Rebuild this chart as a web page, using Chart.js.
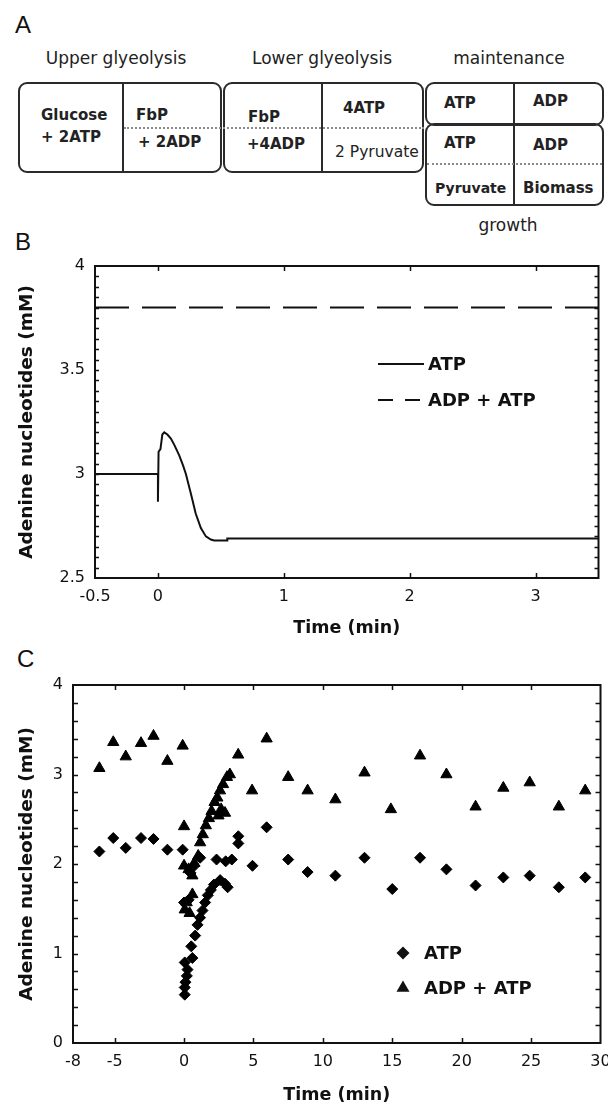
<!DOCTYPE html>
<html>
<head>
<meta charset="utf-8">
<script src="https://cdn.jsdelivr.net/npm/chart.js@4/dist/chart.umd.min.js"></script>
<style>
html,body{margin:0;padding:0;background:#fff;}
body{width:608px;height:1108px;position:relative;overflow:hidden;font-family:"DejaVu Sans",sans-serif;color:#111;}
.letter{position:absolute;font-family:"Liberation Sans",Arial,sans-serif;font-size:24px;line-height:24px;color:#111;}
.hdr{position:absolute;font-size:17px;line-height:17px;color:#222;white-space:nowrap;transform:translateX(-50%);}
.box{position:absolute;border:2px solid #2a2a2a;border-radius:9px;box-sizing:border-box;}
.vdiv{position:absolute;width:0;border-left:2px solid #2a2a2a;}
.dot{position:absolute;height:0;border-top:2px dotted #8a8a8a;}
.t{position:absolute;font-weight:bold;font-size:15px;line-height:15px;color:#222;white-space:nowrap;}
canvas{position:absolute;left:0;}
</style>
</head>
<body>
<!-- Panel A : diagram -->
<div class="letter" style="left:15px;top:13px">A</div>
<div class="hdr" style="left:116px;top:50px">Upper glyeolysis</div>
<div class="hdr" style="left:322px;top:50px">Lower glyeolysis</div>
<div class="hdr" style="left:509px;top:50px">maintenance</div>

<div class="box" style="left:18px;top:82px;width:204px;height:91px"></div>
<div class="vdiv" style="left:122px;top:83px;height:89px"></div>
<div class="box" style="left:223px;top:82px;width:201px;height:91px"></div>
<div class="vdiv" style="left:321px;top:83px;height:89px"></div>
<div class="dot" style="left:124px;top:127px;width:300px"></div>

<div class="box" style="left:425px;top:82px;width:179px;height:44px"></div>
<div class="box" style="left:425px;top:123px;width:179px;height:83px"></div>
<div class="vdiv" style="left:513px;top:83px;height:122px"></div>
<div class="dot" style="left:427px;top:163px;width:175px"></div>

<div class="t" style="left:41px;top:108px">Glucose</div>
<div class="t" style="left:41px;top:130px">+ 2ATP</div>
<div class="t" style="left:136px;top:108px">FbP</div>
<div class="t" style="left:138px;top:135px">+ 2ADP</div>
<div class="t" style="left:248px;top:110px">FbP</div>
<div class="t" style="left:247px;top:137px">+4ADP</div>
<div class="t" style="left:343px;top:101px">4ATP</div>
<div class="t" style="left:335px;top:145px;font-weight:normal;font-size:15.5px">2 Pyruvate</div>
<div class="t" style="left:444px;top:96px">ATP</div>
<div class="t" style="left:533px;top:94px">ADP</div>
<div class="t" style="left:444px;top:136px">ATP</div>
<div class="t" style="left:533px;top:138px">ADP</div>
<div class="t" style="left:435px;top:181px;font-size:14px;line-height:14px">Pyruvate</div>
<div class="t" style="left:523px;top:181px">Biomass</div>
<div class="hdr" style="left:508px;top:217px">growth</div>

<div class="letter" style="left:15px;top:230px">B</div>
<div class="letter" style="left:17px;top:647px">C</div>

<canvas id="chartB" width="608" height="410" style="top:230px"></canvas>
<canvas id="chartC" width="608" height="468" style="top:640px"></canvas>

<script>
// ---------------- DATA ----------------
// Panel B (simulation)
const timeB  = [-0.5, 0,    0,     0.005, 0.02,  0.035, 0.05, 0.075, 0.103, 0.13, 0.169, 0.2,  0.222, 0.262, 0.30, 0.341, 0.381, 0.42,  0.447, 0.526, 0.55, 0.551, 3.5];
const atpB   = [3.0,  3.0,  2.867, 3.107, 3.12,  3.19,  3.2,  3.19,  3.17,  3.14, 3.09,  3.04, 3.0,   2.905, 2.81, 2.74,  2.70,  2.685, 2.68,  2.68,  2.68, 2.69,  2.69];
const totalTimeB = [-0.5, 3.5];
const totalB     = [3.8, 3.8];
const xTicksB = [-0.5, 0, 1, 2, 3];
const yTicksB = [2.5, 3, 3.5, 4];

// Panel C (measurements)
const atpTimeC = [-6.1, -5.1, -4.2, -3.1, -2.2, -1.2, -0.1,
  0.05, 0.05, 0.1, 0.2, 0.25, 0.05, 0.6, 0.52, 0.8, 0.97, 1.15, 1.33, 1.52, 1.71, 1.93, 2.15, 2.6, 2.95, 3.14,
  0.0, 0.33, 0.47, 0.74, 1.16, 2.34, 3.0, 3.44, 3.91, 3.91, 4.93, 5.95,
  7.5, 8.9, 10.9, 13.0, 15.0, 17.0, 18.9, 21.0, 23.0, 24.9, 27.0, 28.9];
const atpC = [2.14, 2.29, 2.18, 2.29, 2.28, 2.16, 2.16,
  0.54, 0.62, 0.68, 0.75, 0.82, 0.90, 0.95, 1.08, 1.20, 1.32, 1.40, 1.48, 1.57, 1.65, 1.71, 1.77, 1.82, 1.78, 1.74,
  1.57, 1.60, 1.90, 1.98, 2.07, 2.05, 2.03, 2.05, 2.31, 2.23, 1.98, 2.41,
  2.05, 1.91, 1.87, 2.07, 1.72, 2.07, 1.94, 1.76, 1.85, 1.87, 1.74, 1.85];
const totTimeC = [-6.1, -5.1, -4.2, -3.1, -2.2, -1.2, -0.1, 0.0,
  0.0, 0.33, 0.6, 0.19, 0.05, 0.4, 0.6, 0.74, 1.02, 1.16, 1.35, 1.57, 1.79, 1.98, 2.2, 2.4, 2.59, 2.81, 3.09, 3.3,
  2.95, 2.67, 2.48, 3.9, 4.9, 5.95, 7.5, 8.9, 10.9, 13.0, 14.9, 17.0, 18.9, 21.0, 23.0, 24.9, 27.0, 28.9];
const totC = [3.07, 3.36, 3.20, 3.35, 3.43, 3.15, 3.32, 2.42,
  1.98, 1.94, 1.87, 1.57, 1.49, 1.45, 1.66, 2.01, 2.09, 2.24, 2.33, 2.43, 2.51, 2.59, 2.69, 2.74, 2.82, 2.89, 2.97, 3.0,
  2.57, 2.61, 2.54, 3.22, 2.82, 3.40, 2.97, 2.82, 2.72, 3.02, 2.61, 3.21, 3.0, 2.64, 2.85, 2.91, 2.64, 2.82];
const xTicksC = [-8, -5, 0, 5, 10, 15, 20, 25, 30];
const yTicksC = [0, 1, 2, 3, 4];

const seriesNames = ['ATP', 'ADP + ATP'];
const yTitle = 'Adenine nucleotides (mM)';
const xTitle = 'Time (min)';

// ---------------- HELPERS ----------------
const zip = (xs, ys) => xs.map((x, i) => ({x: x, y: ys[i]}));
const FONT = '"DejaVu Sans", sans-serif';
const INK = '#111';

const framePlugin = {
  id: 'frame',
  afterDatasetsDraw(chart, args, o) {
    const {ctx, chartArea: a} = chart;
    const xs = chart.scales.x, ys = chart.scales.y;
    ctx.save();
    ctx.strokeStyle = INK;
    ctx.lineWidth = 2;
    ctx.strokeRect(a.left, a.top, a.right - a.left, a.bottom - a.top);
    ctx.lineWidth = 1.5;
    ctx.beginPath();
    o.xMarks.forEach(v => {
      if (v <= xs.min || v >= xs.max) return;
      const p = Math.round(xs.getPixelForValue(v)) + 0.5;
      ctx.moveTo(p, a.bottom); ctx.lineTo(p, a.bottom - o.xLen);
      ctx.moveTo(p, a.top); ctx.lineTo(p, a.top + o.xLen);
    });
    const n = Math.round((ys.max - ys.min) / o.yStep);
    for (let i = 1; i < n; i++) {
      const p = Math.round(ys.getPixelForValue(ys.min + i * o.yStep)) + 0.5;
      ctx.moveTo(a.left, p); ctx.lineTo(a.left + o.yLen, p);
      ctx.moveTo(a.right, p); ctx.lineTo(a.right - o.yLen, p);
    }
    ctx.stroke();
    ctx.restore();
  }
};

function drawMarker(ctx, style, x, y, r) {
  ctx.beginPath();
  if (style === 'rectRot') {
    ctx.moveTo(x - r, y); ctx.lineTo(x, y - r); ctx.lineTo(x + r, y); ctx.lineTo(x, y + r);
  } else {
    const h = r * Math.sqrt(3) / 2;
    ctx.moveTo(x, y - r); ctx.lineTo(x + h, y + r / 2); ctx.lineTo(x - h, y + r / 2);
  }
  ctx.closePath(); ctx.fill();
}

const legendPlugin = {
  id: 'ownLegend',
  afterDraw(chart, args, o) {
    const ctx = chart.ctx;
    ctx.save();
    ctx.font = 'bold ' + o.size + 'px ' + FONT;
    ctx.fillStyle = INK; ctx.strokeStyle = INK;
    ctx.textBaseline = 'middle';
    chart.data.datasets.forEach((ds, i) => {
      const yy = o.y + i * o.gap;
      if (o.kind === 'line') {
        ctx.lineWidth = 2;
        ctx.setLineDash(o.dashes[i]);
        ctx.beginPath(); ctx.moveTo(o.x0, yy); ctx.lineTo(o.x1, yy); ctx.stroke();
        ctx.setLineDash([]);
      } else {
        drawMarker(ctx, ds.pointStyle, o.mx, yy, ds.pointRadius + 1);
      }
      ctx.fillText(ds.label, o.tx, yy + 1);
    });
    ctx.restore();
  }
};

function axes(cfg) {
  const tickFont = {family: FONT, size: 16};
  const titleFont = {family: FONT, size: 17.5, weight: 'bold'};
  return {
    x: {
      type: 'linear', min: cfg.xMin, max: cfg.xMax,
      grid: {display: false, drawTicks: false}, border: {display: false},
      afterBuildTicks: s => { s.ticks = cfg.xTicks.map(v => ({value: v})); },
      afterFit: s => { s.height = cfg.xH; s.paddingLeft = 0; s.paddingRight = 0; },
      ticks: {padding: 9, font: tickFont, color: INK, autoSkip: false, maxRotation: 0, callback: v => String(v)},
      title: {display: true, text: xTitle, color: INK, font: titleFont, padding: {top: 0, bottom: cfg.xTitlePad}}
    },
    y: {
      type: 'linear', min: cfg.yMin, max: cfg.yMax,
      grid: {display: false, drawTicks: false}, border: {display: false},
      afterBuildTicks: s => { s.ticks = cfg.yTicks.map(v => ({value: v})); },
      afterFit: s => { s.width = cfg.yW; s.paddingTop = 0; s.paddingBottom = 0; },
      ticks: {padding: 10, font: tickFont, color: INK, autoSkip: false, callback: v => String(v)},
      title: {display: true, text: yTitle, color: INK, font: {family: FONT, size: 18.5, weight: 'bold'}, padding: {top: 16, bottom: 0}}
    }
  };
}

// ---------------- CHART B ----------------
new Chart(document.getElementById('chartB'), {
  type: 'line',
  data: {
    datasets: [
      {label: seriesNames[0], data: zip(timeB, atpB), borderColor: INK, borderWidth: 2, pointRadius: 0, tension: 0, fill: false},
      {label: seriesNames[1], data: zip(totalTimeB, totalB), borderColor: INK, borderWidth: 2, borderDash: [34, 13], pointRadius: 0, fill: false}
    ]
  },
  options: {
    responsive: false, animation: false, events: [],
    layout: {padding: {top: 36, right: 9.5, left: 0, bottom: 0}},
    plugins: {
      legend: {display: false}, tooltip: {enabled: false},
      frame: {xMarks: xTicksB, xLen: 5, yStep: 0.05, yLen: 4},
      ownLegend: {kind: 'line', y: 134, gap: 36, x0: 378, x1: 424, tx: 428, size: 18, dashes: [[], [15, 12]]}
    },
    scales: axes({xMin: -0.5, xMax: 3.5, yMin: 2.5, yMax: 4, xTicks: xTicksB, yTicks: yTicksB, xH: 62, yW: 95, xTitlePad: 1})
  },
  plugins: [framePlugin, legendPlugin]
});

// ---------------- CHART C ----------------
new Chart(document.getElementById('chartC'), {
  type: 'scatter',
  data: {
    datasets: [
      {label: seriesNames[0], data: zip(atpTimeC, atpC), pointStyle: 'rectRot', pointRadius: 5.5, backgroundColor: '#000', borderColor: '#000', borderWidth: 1},
      {label: seriesNames[1], data: zip(totTimeC, totC), pointStyle: 'triangle', pointRadius: 6.5, backgroundColor: '#000', borderColor: '#000', borderWidth: 1}
    ]
  },
  options: {
    responsive: false, animation: false, events: [],
    layout: {padding: {top: 45, right: 4, left: 0, bottom: 0}},
    plugins: {
      legend: {display: false}, tooltip: {enabled: false},
      frame: {xMarks: xTicksC, xLen: 5, yStep: 0.2, yLen: 5},
      ownLegend: {kind: 'point', y: 313, gap: 35, mx: 403, tx: 424, size: 18}
    },
    scales: axes({xMin: -8, xMax: 30, yMin: 0, yMax: 4, xTicks: xTicksC, yTicks: yTicksC, xH: 65, yW: 73, xTitlePad: 2})
  },
  plugins: [framePlugin, legendPlugin]
});
</script>
</body>
</html>
